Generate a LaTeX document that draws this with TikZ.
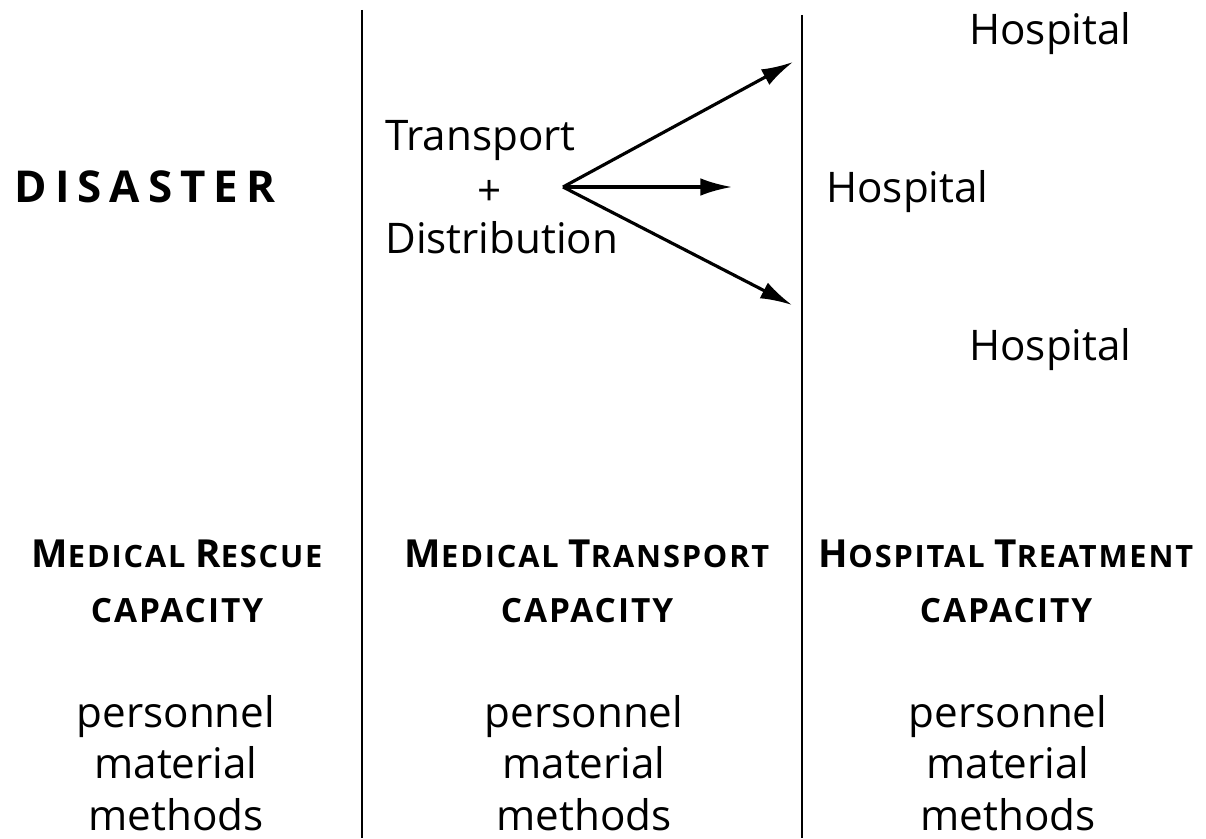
\documentclass[tikz,border=0pt]{standalone}
\usepackage{fontspec}
\setmainfont{Open Sans}
\usetikzlibrary{arrows.meta}
\newcommand{\hcap}[1]{{\fontsize{22}{31.3}\selectfont #1}}
\newcommand{\capword}{{\fontsize{19}{31.3}\selectfont CAPACITY}}
\begin{document}
\begin{tikzpicture}[x=0.02cm,y=-0.02cm,
  txt/.style={inner sep=0pt,font=\fontsize{24}{29.3}\selectfont},
  head/.style={inner sep=0pt,align=center,font=\bfseries\fontsize{17.5}{31.3}\selectfont\addfontfeature{LetterSpace=6}},
  >={Latex[length=18pt,width=10pt]}]
\useasboundingbox (0,0) rectangle (1206,838);
% column separators
\draw [line width=1.5pt] (362,10) -- (362,838);
\draw [line width=1.5pt] (802,15) -- (802,838);
% left column
\node [txt,anchor=base,font=\bfseries\fontsize{25}{29}\selectfont\addfontfeature{LetterSpace=18}] (disaster) at (145,202) {DISASTER};
% middle column
\node [txt,anchor=base west] (transport) at (385,150) {Transport};
\node [txt] (plus) at (490,193) {+};
\node [txt,anchor=base west] (distrib) at (385,253) {Distribution};
\coordinate (hub) at (563,187);
\coordinate (toA) at (793,62);
\coordinate (toB) at (732,187);
\coordinate (toC) at (792,305);
\draw [line width=1.8pt,->] (hub) -- (toA);
\draw [line width=1.8pt,->] (hub) -- (toB);
\draw [line width=1.8pt,->] (hub) -- (toC);
% right column
\node [txt,anchor=base west] (hospA) at (969,45) {Hospital};
\node [txt,anchor=base west] (hospB) at (826,202) {Hospital};
\node [txt,anchor=base west] (hospC) at (969,360) {Hospital};
% capacities
\node [head,anchor=base] (rescue) at (177,622) {\hcap{M}EDICAL \hcap{R}ESCUE\\\capword};
\node [head,anchor=base] (transcap) at (587,622) {\hcap{M}EDICAL \hcap{T}RANSPORT\\\capword};
\node [head,anchor=base] (hospcap) at (1006,622) {\hcap{H}OSPITAL \hcap{T}REATMENT\\\capword};
\node [txt,align=center,anchor=base] (rescuelist) at (176,830) {personnel\\material\\methods};
\node [txt,align=center,anchor=base] (translist) at (584,830) {personnel\\material\\methods};
\node [txt,align=center,anchor=base] (hosplist) at (1008,830) {personnel\\material\\methods};
\end{tikzpicture}
\end{document}
